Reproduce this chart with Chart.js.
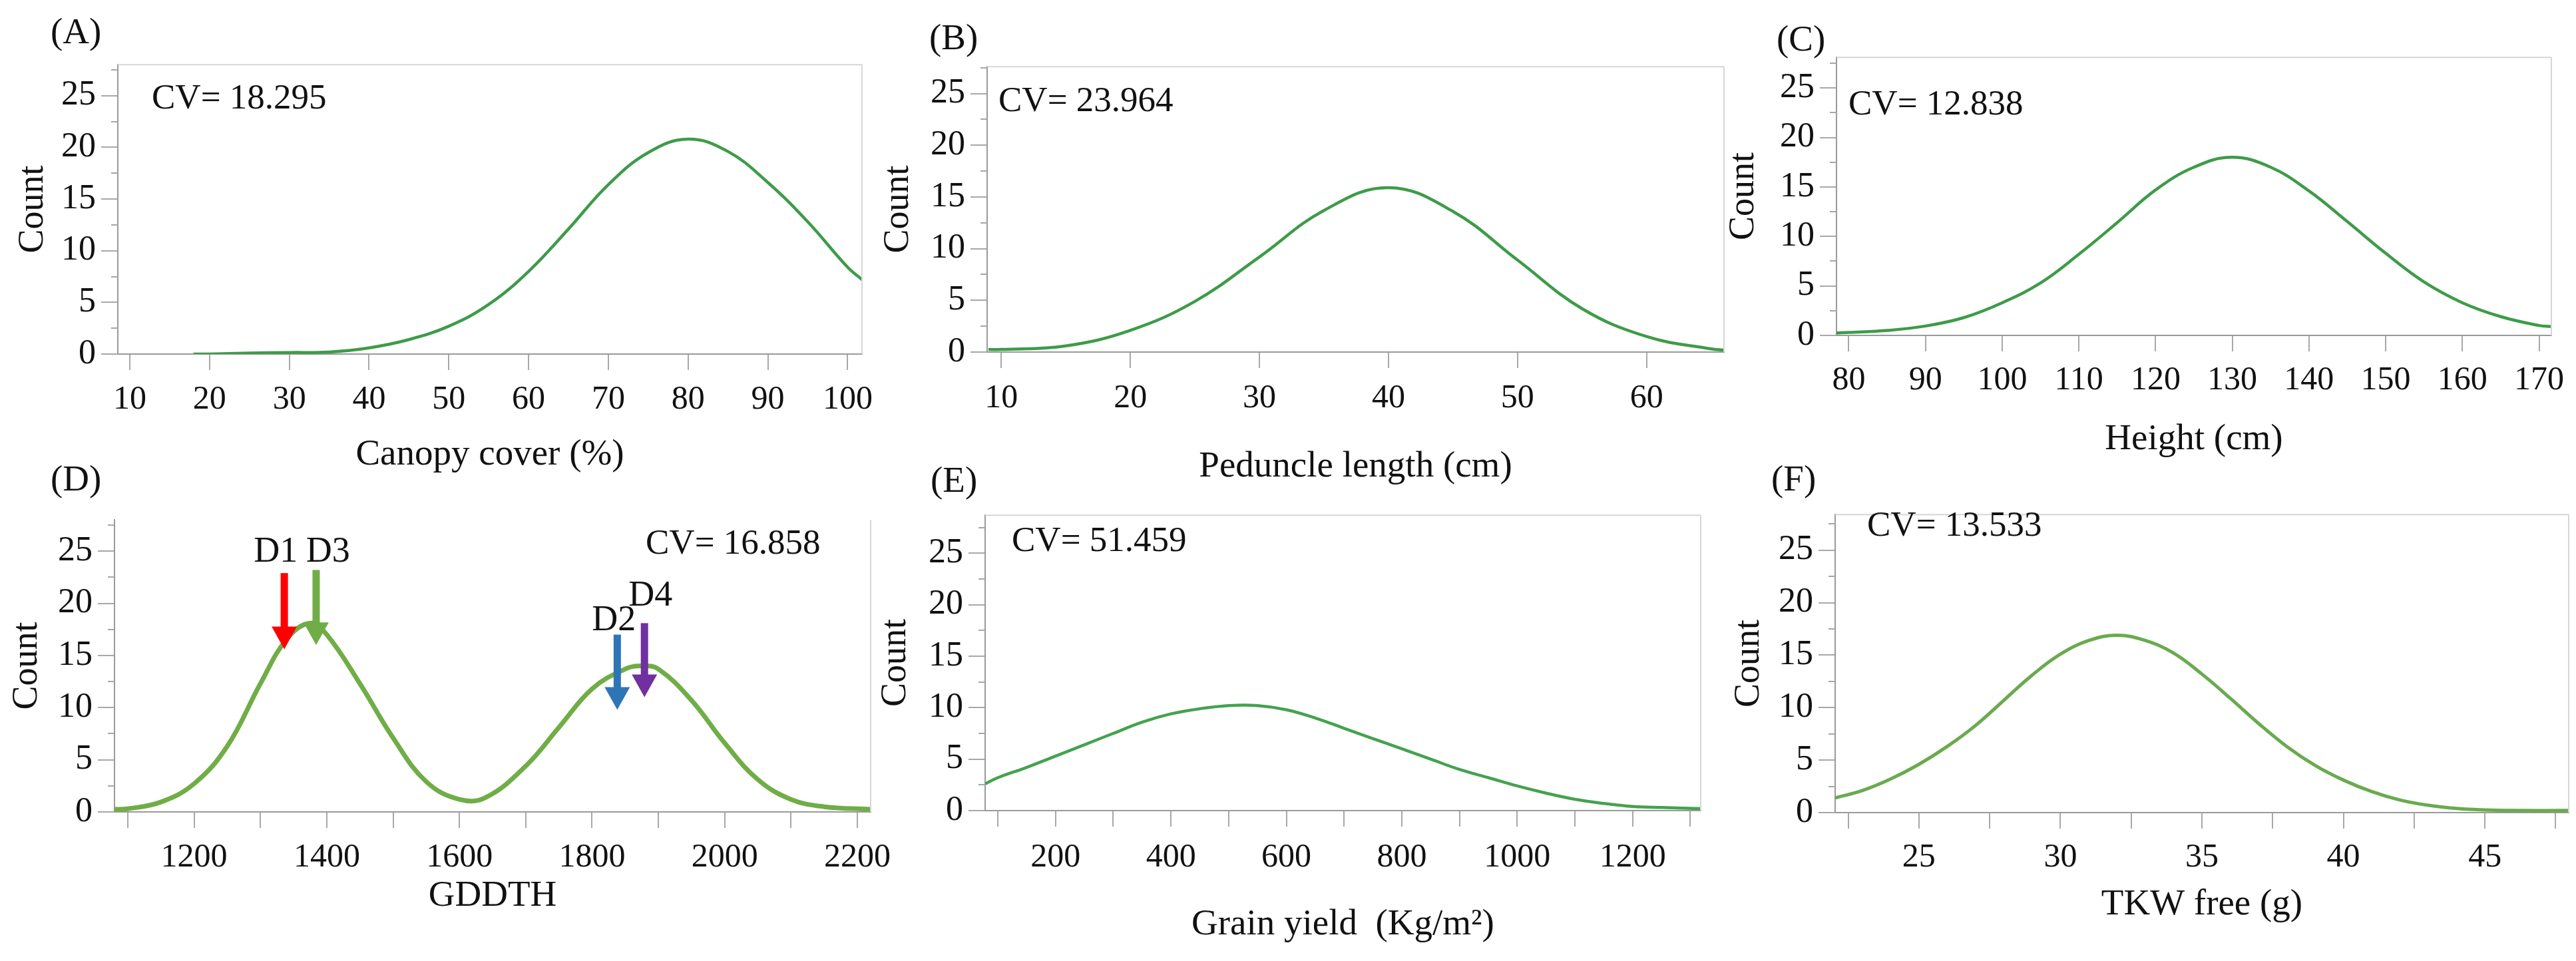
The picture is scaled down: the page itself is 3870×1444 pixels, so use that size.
<!DOCTYPE html>
<html>
<head>
<meta charset="utf-8">
<script src="https://cdn.jsdelivr.net/npm/chart.js@4.4.1/dist/chart.umd.min.js"></script>
<style>
  html, body { margin: 0; padding: 0; background: #fff; }
  body { width: 3870px; height: 1444px; position: relative; overflow: hidden;
         font-family: "Liberation Serif", "DejaVu Serif", serif; }
  canvas { position: absolute; }
  .txt { position: absolute; transform: translateY(-50%); white-space: nowrap; color: #111; line-height: 1; }
</style>
</head>
<body>
<script>
// (A) Canopy cover
const canopyX = [18, 20, 25, 30, 35, 40, 45, 50, 55, 60, 65, 70, 75, 80, 85, 90, 95, 100, 101.8];
const canopyY = [0.0, 0.0, 0.1, 0.15, 0.2, 0.6, 1.4, 2.7, 4.8, 8.0, 12.1, 16.4, 19.5, 20.8, 19.6, 16.6, 12.8, 8.4, 7.2];

// (B) Peduncle length
const peduncleX = [9, 10, 15, 20, 25, 30, 35, 40, 45, 50, 55, 60, 65, 66];
const peduncleY = [0.25, 0.25, 0.6, 2.1, 4.9, 9.2, 13.7, 15.9, 13.6, 8.9, 4.2, 1.5, 0.3, 0.2];

// (C) Height
const heightX = [78.4, 80, 85, 90, 95, 100, 105, 110, 115, 120, 125, 130, 135, 140, 145, 150, 155, 160, 165, 170, 171.6];
const heightY = [0.25, 0.3, 0.5, 0.95, 1.8, 3.3, 5.3, 8.2, 11.4, 14.7, 17.0, 18.0, 17.0, 14.6, 11.5, 8.3, 5.4, 3.3, 1.9, 1.0, 0.9];

// (D) GDDTH, two humps
const gddX = [1080, 1100, 1150, 1200, 1250, 1300, 1340, 1375, 1400, 1450, 1500, 1550, 1600, 1640, 1700, 1750, 1800, 1850, 1875, 1900, 1950, 2000, 2050, 2100, 2150, 2220];
const gddY = [0.25, 0.3, 0.95, 2.7, 6.3, 12.3, 16.6, 18.1, 17.0, 12.3, 7.1, 2.9, 1.2, 1.4, 4.4, 8.1, 11.8, 13.7, 14.0, 13.7, 10.7, 6.6, 3.1, 1.2, 0.5, 0.25];

// (D) arrows
const gddArrowNames = ['D1', 'D2', 'D3', 'D4'];
const gddArrowX = [1336, 1838, 1384, 1879];
const gddArrowFrom = [22.9, 17.0, 23.2, 18.1];
const gddArrowTo = [15.6, 9.8, 16.0, 11.0];
const gddArrowLabelX = [1323, 1833, 1402, 1888];
const gddArrowLabelY = [24.9, 18.3, 24.9, 20.7];
const gddArrowColors = ['#ff0000', '#2e75b6', '#70ad47', '#7030a0'];

// (E) Grain yield
const yieldX = [78, 100, 150, 200, 250, 300, 350, 400, 450, 500, 550, 600, 650, 700, 750, 800, 850, 900, 950, 1000, 1050, 1100, 1150, 1200, 1250, 1318];
const yieldY = [2.6, 3.2, 4.2, 5.3, 6.4, 7.5, 8.6, 9.4, 9.9, 10.2, 10.2, 9.8, 9.0, 8.0, 7.0, 6.0, 5.0, 4.0, 3.2, 2.4, 1.7, 1.1, 0.7, 0.4, 0.3, 0.2];

// (F) TKW free
const tkwX = [22.04, 23, 24, 25, 26, 27, 28, 29, 30, 31, 32, 33, 34, 35, 36, 37, 38, 39, 40, 41, 42, 43, 44, 45, 46, 47.96];
const tkwY = [1.4, 2.1, 3.2, 4.6, 6.3, 8.3, 10.7, 13.1, 15.1, 16.4, 16.9, 16.4, 15.2, 13.2, 10.9, 8.5, 6.3, 4.5, 3.1, 2.0, 1.2, 0.7, 0.4, 0.25, 0.2, 0.2];

const cvValues = ['18.295', '23.964', '12.838', '16.858', '51.459', '13.533'];

const FONT = '"Liberation Serif", "DejaVu Serif", serif';
Chart.defaults.font.family = FONT;
Chart.defaults.color = '#111';

// page layout of each panel (plot box = left, top, right, bottom)
const panels = [
  { tag: '(A)', box: [177, 68, 1295, 532], xr: [8.5, 101.8], yMax: 28.0, step: 10, every: 10,
    title: 'Canopy cover (%)', countX: 50, tickGap: 69, titleGap: 152, cvAt: [228, 145], tagAt: [76, 46],
    xs: canopyX, ys: canopyY, color: '#3e9b49', lw: 4.5 },
  { tag: '(B)', box: [1483, 71, 2590, 529], xr: [8.9, 66.0], yMax: 27.6, step: 10, every: 10,
    title: 'Peduncle length (cm)', countX: 1350, tickGap: 70, titleGap: 173, cvAt: [1500, 149], tagAt: [1396, 55],
    xs: peduncleX, ys: peduncleY, color: '#3e9b49', lw: 4.5 },
  { tag: '(C)', box: [2759, 57, 3833, 504], xr: [78.4, 171.6], yMax: 28.1, step: 10, every: 10,
    title: 'Height (cm)', countX: 2620, tickGap: 68, titleGap: 157, cvAt: [2777, 154], tagAt: [2669, 57],
    xs: heightX, ys: heightY, color: '#3e9b49', lw: 4.5 },
  { tag: '(D)', box: [172, 752, 1308, 1220], xr: [1080, 2220], yMax: 28.0, step: 100, every: 200,
    title: 'GDDTH', countX: 41, tickGap: 69, titleGap: 127, cvAt: [970, 814], tagAt: [76, 718],
    xs: gddX, ys: gddY, color: '#70ad47', lw: 7, arrows: true, noTop: true },
  { tag: '(E)', box: [1480, 745, 2555, 1218], xr: [78, 1318], yMax: 28.7, step: 100, every: 200,
    title: 'Grain yield  (Kg/m\u00B2)', countX: 1346, tickGap: 71, titleGap: 172, cvAt: [1520, 810], tagAt: [1398, 720],
    xs: yieldX, ys: yieldY, color: '#44a24f', lw: 4.5 },
  { tag: '(F)', box: [2757, 744, 3859, 1221], xr: [22.04, 47.96], yMax: 28.4, step: 2.5, every: 5,
    title: 'TKW free (g)', countX: 2628, tickGap: 68, titleGap: 139, cvAt: [2805, 787], tagAt: [2661, 718],
    xs: tkwX, ys: tkwY, color: '#6aaa4f', lw: 5 }
];

const onStep = (v, every) => Math.abs(v / every - Math.round(v / every)) < 1e-6;

// light frame on top/right plus short minor ticks on y
const frame = {
  id: 'frame',
  afterDatasetsDraw(chart, args, o) {
    const { ctx, chartArea: a, scales: { y } } = chart;
    ctx.save();
    ctx.lineWidth = 2;
    ctx.strokeStyle = '#d6d6d6';
    ctx.beginPath();
    if (!o.noTop) { ctx.moveTo(a.left, a.top); ctx.lineTo(a.right, a.top); }
    ctx.moveTo(a.right, a.top); ctx.lineTo(a.right, a.bottom);
    ctx.stroke();
    ctx.strokeStyle = '#a6a6a6';
    ctx.beginPath();
    for (let v = 2.5; v < y.max; v += 5) {
      const py = Math.round(y.getPixelForValue(v));
      ctx.moveTo(a.left - 10, py); ctx.lineTo(a.left, py);
    }
    ctx.stroke();
    ctx.restore();
  }
};

const arrows = {
  id: 'arrows',
  afterDatasetsDraw(chart) {
    const { ctx, scales: { x, y } } = chart;
    ctx.save();
    gddArrowNames.forEach((name, i) => {
      const px = x.getPixelForValue(gddArrowX[i]);
      const top = y.getPixelForValue(gddArrowFrom[i]);
      const tip = y.getPixelForValue(gddArrowTo[i]);
      const head = 34, half = 19;
      ctx.fillStyle = gddArrowColors[i];
      ctx.fillRect(px - 5.5, top, 11, tip - head - top + 1);
      ctx.beginPath();
      ctx.moveTo(px - half, tip - head);
      ctx.lineTo(px + half, tip - head);
      ctx.lineTo(px, tip);
      ctx.closePath();
      ctx.fill();
      ctx.fillStyle = '#111';
      ctx.font = '54px ' + FONT;
      ctx.textAlign = 'center';
      ctx.textBaseline = 'middle';
      ctx.fillText(name, x.getPixelForValue(gddArrowLabelX[i]), y.getPixelForValue(gddArrowLabelY[i]));
    });
    ctx.restore();
  }
};

function addText(str, at, size) {
  const d = document.createElement('div');
  d.className = 'txt';
  d.textContent = str;
  d.style.left = at[0] + 'px';
  d.style.top = at[1] + 'px';
  d.style.fontSize = size + 'px';
  document.body.appendChild(d);
}

panels.forEach((p, idx) => {
  const W = 170, padTop = 10, padRight = 60;
  const [L, T, R, B] = p.box;
  const H = p.titleGap + 33;
  const cw = R - L + W + padRight;
  const ch = B - T + padTop + H;
  const cv = document.createElement('canvas');
  cv.width = cw; cv.height = ch;
  cv.style.width = cw + 'px'; cv.style.height = ch + 'px';
  cv.style.left = (L - W) + 'px'; cv.style.top = (T - padTop) + 'px';
  document.body.appendChild(cv);

  new Chart(cv, {
    type: 'line',
    data: {
      datasets: [{
        data: p.xs.map((x, i) => ({ x, y: p.ys[i] })),
        borderColor: p.color,
        borderWidth: p.lw,
        pointRadius: 0,
        fill: false,
        tension: 0.4
      }]
    },
    options: {
      responsive: false,
      animation: false,
      devicePixelRatio: 1,
      layout: { padding: { top: padTop, right: padRight, left: 0, bottom: 0 } },
      plugins: { legend: { display: false }, tooltip: { enabled: false }, frame: { noTop: !!p.noTop } },
      scales: {
        x: {
          type: 'linear', min: p.xr[0], max: p.xr[1],
          border: { color: '#9a9a9a', width: 2 },
          grid: { drawOnChartArea: false, drawTicks: true, tickLength: 24, color: '#a8a8a8', lineWidth: 2 },
          ticks: {
            stepSize: p.step, includeBounds: false, autoSkip: false, maxRotation: 0, minRotation: 0,
            padding: p.tickGap - 24 - 30, font: { size: 50 }, color: '#111',
            callback: v => onStep(v, p.every) ? v : ''
          },
          title: { display: true, text: p.title, font: { size: 55 }, color: '#111', padding: { top: 0, bottom: 0 } },
          afterFit: s => { s.height = H; }
        },
        y: {
          min: 0, max: p.yMax,
          border: { color: '#9a9a9a', width: 2 },
          grid: { drawOnChartArea: false, drawTicks: true, tickLength: 25, color: '#a8a8a8', lineWidth: 2 },
          ticks: { stepSize: 5, includeBounds: false, padding: 8, font: { size: 52 }, color: '#111' },
          title: { display: true, text: 'Count', font: { size: 54 }, color: '#111',
                   padding: { top: p.countX - (L - W) - 32.4, bottom: 0 } },
          afterFit: s => { s.width = W; }
        }
      }
    },
    plugins: p.arrows ? [frame, arrows] : [frame]
  });

  addText(p.tag, p.tagAt, 55);
  addText('CV= ' + cvValues[idx], p.cvAt, 53);
});
</script>
</body>
</html>
